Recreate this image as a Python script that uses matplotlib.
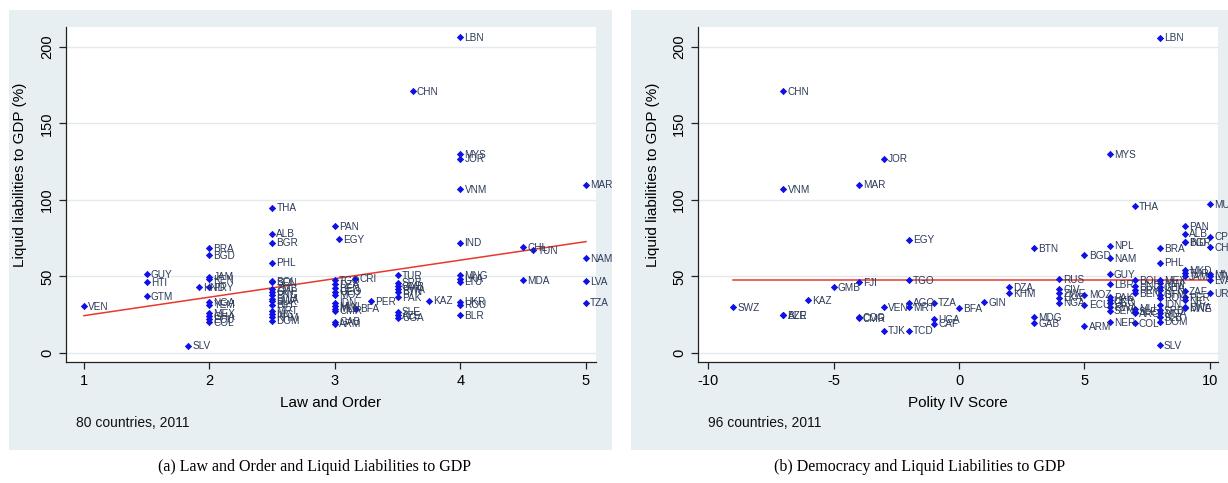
import numpy as np
import matplotlib
matplotlib.use('Agg')
import matplotlib.pyplot as plt
from matplotlib.patches import Rectangle

plt.rcParams['font.family'] = ['Liberation Sans', 'DejaVu Sans']
plt.rcParams['axes.unicode_minus'] = False

# panel (a): law and order vs liquid liabilities
law_codes = ['VEN', 'GUY', 'HTI', 'GTM', 'SLV', 'HND',
             'BRA', 'BGD', 'JAM', 'KEN', 'PRY', 'NGA', 'YEM', 'MEX', 'GHA', 'ECU', 'COL',
             'THA', 'ALB', 'BGR', 'PHL', 'BOL', 'SEN', 'ZMB', 'GIN', 'PNG', 'BWA', 'SUR',
             'BIH', 'MRT', 'NIC', 'KHM', 'DOM',
             'PAN', 'EGY', 'TGO', 'DZA', 'BEN', 'GEO', 'MOZ', 'IDN', 'MWI', 'MLI', 'CMR',
             'GAB', 'ARM', 'CRI', 'BFA', 'PER', 'CHN',
             'TUR', 'SRB', 'GMB', 'RWA', 'BTN', 'PAK', 'SLE', 'AZE', 'UGA', 'KAZ',
             'LBN', 'MYS', 'JOR', 'VNM', 'IND', 'MNG', 'LKA', 'LTU', 'UKR', 'ROU', 'BLR',
             'CHL', 'TUN', 'MDA', 'MAR', 'NAM', 'LVA', 'TZA']
law_x = [1, 1.5, 1.5, 1.5, 1.83, 1.92,
         2, 2, 2, 2, 2, 2, 2, 2, 2, 2, 2,
         2.5, 2.5, 2.5, 2.5, 2.5, 2.5, 2.5, 2.5, 2.5, 2.5, 2.5,
         2.5, 2.5, 2.5, 2.5, 2.5,
         3, 3.03, 3, 3, 3, 3, 3, 3, 3, 3, 3,
         3, 3, 3.16, 3.17, 3.29, 3.62,
         3.5, 3.5, 3.5, 3.5, 3.5, 3.5, 3.5, 3.5, 3.5, 3.75,
         4, 4, 4, 4, 4, 4, 4, 4, 4, 4, 4,
         4.5, 4.58, 4.5, 5, 5, 5, 5]
law_y = [30.7, 51.6, 46.4, 37, 4.6, 43,
         68.6, 64, 49.7, 48, 43, 33.3, 31.4, 26, 24, 22, 20,
         95, 78, 72, 59, 47, 46, 42, 40, 38, 35.3, 34,
         31.4, 27.5, 25.5, 23.5, 21,
         83, 74.5, 47.7, 45, 42.5, 40, 38, 32.7, 30.7, 28.8, 27.5,
         20.3, 19, 48.4, 28.8, 34, 171,
         51, 45.8, 43.8, 41.8, 39.9, 36.6, 27, 24.8, 22.9, 34.2,
         206.5, 130, 127, 107, 72, 51, 48.4, 46.6, 33.5, 31.4, 24.8,
         69, 67, 47.7, 110, 62, 47, 32.7]
law_fit = [12.2, 12.1]  # intercept, slope

# panel (b): polity IV score vs liquid liabilities
pol_codes = ['SWZ', 'CHN', 'VNM', 'AZE', 'BLR', 'KAZ', 'GMB',
             'MAR', 'FJI', 'COG', 'CMR', 'JOR', 'VEN', 'TJK',
             'EGY', 'TGO', 'AGO', 'MRT', 'TCD', 'TZA', 'UGA', 'CAF', 'BFA', 'GIN',
             'DZA', 'KHM', 'BTN', 'MDG', 'GAB', 'RUS', 'CIV', 'ZWE', 'LKA', 'NGA',
             'BGD', 'MOZ', 'ECU', 'ARM',
             'MYS', 'NPL', 'NAM', 'GUY', 'LBR', 'PAK', 'UKR', 'GEO', 'RWA', 'SEN', 'NER',
             'THA', 'BOL', 'HND', 'PRY', 'BEN', 'MLI', 'SLE', 'ARG', 'COL',
             'LBN', 'BRA', 'PHL', 'MEX', 'MWI', 'GHA', 'KEN', 'GTM', 'ROU', 'IDN', 'SRB',
             'MDA', 'SLB', 'DOM', 'SLV',
             'PAN', 'ALB', 'BGR', 'IND', 'MKD', 'TUR', 'JAM', 'ZAF', 'PER', 'NIC', 'BWA', 'MNE',
             'MUS', 'CPV', 'CHL', 'MNG', 'LTU', 'LVA', 'URY']
pol_x = [-9, -7, -7, -7, -7, -6, -5,
         -4, -4, -4, -4, -3, -3, -3,
         -2, -2, -2, -2, -2, -1, -1, -1, 0, 1,
         2, 2, 3, 3, 3, 4, 4, 4, 4, 4,
         5, 5, 5, 5,
         6, 6, 6, 6, 6, 6, 6, 6, 6, 6, 6,
         7, 7, 7, 7, 7, 7, 7, 7, 7,
         8, 8, 8, 8, 8, 8, 8, 8, 8, 8, 8,
         8, 8, 8, 8,
         9, 9, 9, 9, 9, 9, 9, 9, 9, 9, 9, 9,
         10, 10, 10, 10, 10, 10, 10]
pol_y = [30, 171, 107, 24.8, 24.8, 34.6, 43,
         110, 46, 23.5, 22.6, 127, 30, 14.4,
         74, 47.7, 32.7, 30, 14.4, 32.7, 22, 19, 29.4, 33.3,
         43, 39, 68.6, 23.5, 19.6, 48, 41.8, 39, 36, 32.7,
         64, 38, 31.4, 17.6,
         130, 70, 62, 51.6, 45, 36.6, 34.6, 32.7, 30, 27.5, 20,
         96, 47.7, 44, 41, 39, 28.8, 27, 26, 19.6,
         206, 68.6, 59, 47.7, 45.6, 43, 41, 38, 36, 31.4, 28,
         26, 23.5, 20.3, 5,
         83, 78, 72.5, 72.5, 54, 52, 50, 40.5, 36.6, 34.6, 30, 29,
         97, 76, 69, 51.6, 50, 47.7, 39]
pol_fit = [47.3, 0.0]

W, H = 1228, 483
fig = plt.figure(figsize=(W / 100, H / 100), dpi=100)
fig.patch.set_facecolor('white')

bg = '#e8eff2'
fig.patches.append(Rectangle((9 / W, 1 - 450 / H), 603 / W, 440 / H,
                             transform=fig.transFigure, facecolor=bg, edgecolor='none', zorder=-10))
fig.patches.append(Rectangle((631 / W, 1 - 450 / H), 600 / W, 440 / H,
                             transform=fig.transFigure, facecolor=bg, edgecolor='none', zorder=-10))


def panel(left, right, xs, ys, codes, fit, xlim, xticks, xlabel, note, caption, cap_x):
    ax = fig.add_axes([left / W, 1 - 362 / H, (right - left) / W, 335 / H])
    ax.set_zorder(1)
    ax.set_facecolor('white')
    ax.set_xlim(*xlim)
    ax.set_ylim(-6, 213)
    ax.set_yticks([0, 50, 100, 150, 200])
    ax.set_xticks(xticks)
    ax.grid(axis='y', color='#e4eaec', linewidth=1)
    ax.set_axisbelow(True)
    for s in ['top', 'right']:
        ax.spines[s].set_visible(False)
    for s in ['left', 'bottom']:
        ax.spines[s].set_color('#222222')
        ax.spines[s].set_linewidth(0.9)
    ax.tick_params(direction='out', length=5, width=0.9, color='#222222', labelsize=10.5)
    for lbl in ax.get_yticklabels():
        lbl.set_rotation(90)
        lbl.set_va('center')
    ax.set_xlabel(xlabel, fontsize=11, labelpad=6)
    ax.set_ylabel('Liquid liabilities to GDP (%)', fontsize=11)
    ax.yaxis.set_label_coords(-0.074, 0.56)

    ax.scatter(xs, ys, marker='D', s=14, color='#1010e8', zorder=3, linewidths=0)
    for c, x, y in zip(codes, xs, ys):
        ax.annotate(c, (x, y), xytext=(3, -0.5), textcoords='offset points',
                    fontsize=7.2, color='#2c3a58', va='center', ha='left', zorder=4,
                    annotation_clip=False)
    fx = np.array([min(xs), max(xs)])
    ax.plot(fx, fit[0] + fit[1] * fx, color='#e8392b', linewidth=1.1, zorder=2)

    fig.text((left + 10) / W, 1 - 423 / H, note, fontsize=10, va='center', color='#111111')
    fig.text(cap_x / W, 1 - 467 / H, caption, fontsize=11.5, va='center', ha='center',
             family=['Liberation Serif', 'DejaVu Serif'])
    return ax


panel(66, 596, law_x, law_y, law_codes, law_fit, (0.857, 5.08), [1, 2, 3, 4, 5],
      'Law and Order', '80 countries, 2011',
      '(a) Law and Order and Liquid Liabilities to GDP', 314)
panel(698, 1218, pol_x, pol_y, pol_codes, pol_fit, (-10.4, 10.32), [-10, -5, 0, 5, 10],
      'Polity IV Score', '96 countries, 2011',
      '(b) Democracy and Liquid Liabilities to GDP', 920)

fig.savefig('out.png', dpi=100)
